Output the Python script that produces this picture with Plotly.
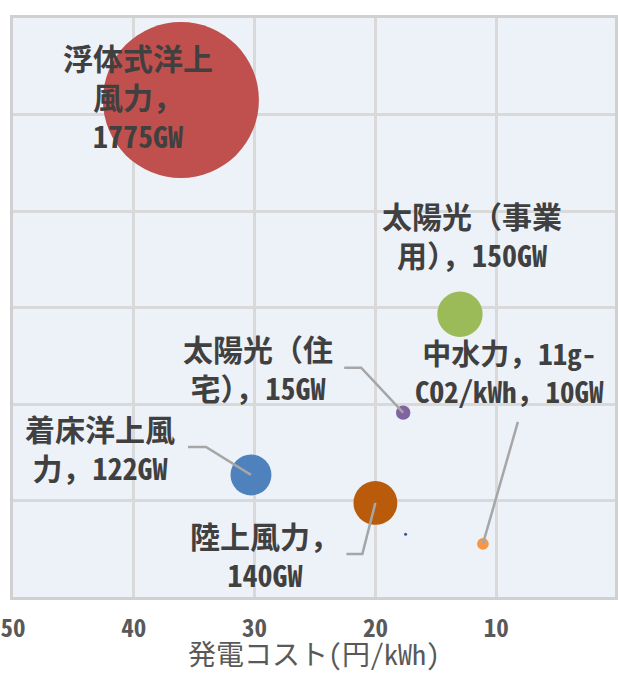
import plotly.graph_objects as go

# ---- data ----
names = ["浮体式洋上風力", "太陽光（事業用）", "太陽光（住宅）", "中水力", "着床洋上風力", "陸上風力"]
cost = [36.1, 13.0, 17.7, 11.1, 30.3, 20.0]          # 発電コスト (円/kWh)
co2 = [103.0, 58.6, 38.2, 11.0, 25.3, 19.5]          # g-CO2/kWh
capacity = [1775, 150, 15, 10, 122, 140]             # GW
labels = ["浮体式洋上<br>風力，<br>1775GW",
          "太陽光（事業<br>用），150GW",
          "太陽光（住<br>宅），15GW",
          "中水力，11g-<br>CO2/kWh，10GW",
          "着床洋上風<br>力，122GW",
          "陸上風力，<br>140GW"]
dot_x = [17.5]
dot_y = [13.0]
x_ticks = [50, 40, 30, 20, 10, 0]

# ---- styles / positions ----
colors = ["#C0504D", "#9BBB59", "#8064A2", "#F79646", "#4F81BD", "#BA5A0B"]
label_shift = [(-43, 4), (12, 80), (-145, 45), (27, 173), (-151, 27), (-110, -52)]
label_size = [30, 30, 30, 29, 30, 30]
leaders = {2: "M -59 45 L -42 45 L 0 0",
           4: "M -63 28 L -45 28 L 0 0",
           5: "M -29 -51 L -13 -51 L 0 0",
           3: "M 35 122 L 0 0"}

max_diam = 156
sizeref = 2.0 * max(capacity) / (max_diam ** 2)

fig = go.Figure()
fig.add_trace(go.Scatter(
    x=cost, y=co2, mode="markers",
    marker=dict(size=capacity, sizemode="area", sizeref=sizeref,
                color=colors, opacity=1, line=dict(width=0)),
    text=names, hoverinfo="text", showlegend=False))
fig.add_trace(go.Scatter(
    x=dot_x, y=dot_y, mode="markers",
    marker=dict(size=3, color="#2F5597"), showlegend=False, hoverinfo="skip"))

for i, lab in enumerate(labels):
    dx, dy = label_shift[i]
    fig.add_annotation(x=cost[i], y=co2[i], xref="x", yref="y", text="<b>" + lab + "</b>",
                       showarrow=False, xshift=dx, yshift=dy, align="center",
                       font=dict(family="Noto Sans Mono CJK JP, Noto Sans CJK JP",
                                 size=label_size[i], color="#404040"))
for i, path in leaders.items():
    fig.add_shape(type="path", xref="x", yref="y", xsizemode="pixel", ysizemode="pixel",
                  xanchor=cost[i], yanchor=co2[i], path=path,
                  line=dict(color="#A6A6A6", width=2.5), layer="above")

fig.update_layout(
    width=618, height=673,
    margin=dict(l=10, r=0, t=18, b=76),
    paper_bgcolor="white", plot_bgcolor="#EDF2F8",
    font=dict(family="Noto Sans Mono CJK JP, Noto Sans CJK JP", color="#595959"),
    xaxis=dict(range=[50, 0.164], tickvals=x_ticks, ticktext=[str(v) for v in x_ticks],
               showgrid=True, gridcolor="#D9D9D9", gridwidth=3,
               showline=True, linecolor="#D0D0D0", linewidth=3, mirror=True,
               zeroline=False, ticks="", ticklabeloverflow="allow",
               ticklabelstandoff=7,
               tickfont=dict(size=25, color="#595959", weight="bold"),
               title=dict(text="発電コスト(円/kWh)", standoff=4,
                          font=dict(size=28, color="#595959"))),
    yaxis=dict(range=[0, 120], dtick=20, showticklabels=False,
               showgrid=True, gridcolor="#D9D9D9", gridwidth=3,
               showline=True, linecolor="#D0D0D0", linewidth=3, mirror=True,
               zeroline=False, ticks=""),
)

fig.write_html("out.html")
